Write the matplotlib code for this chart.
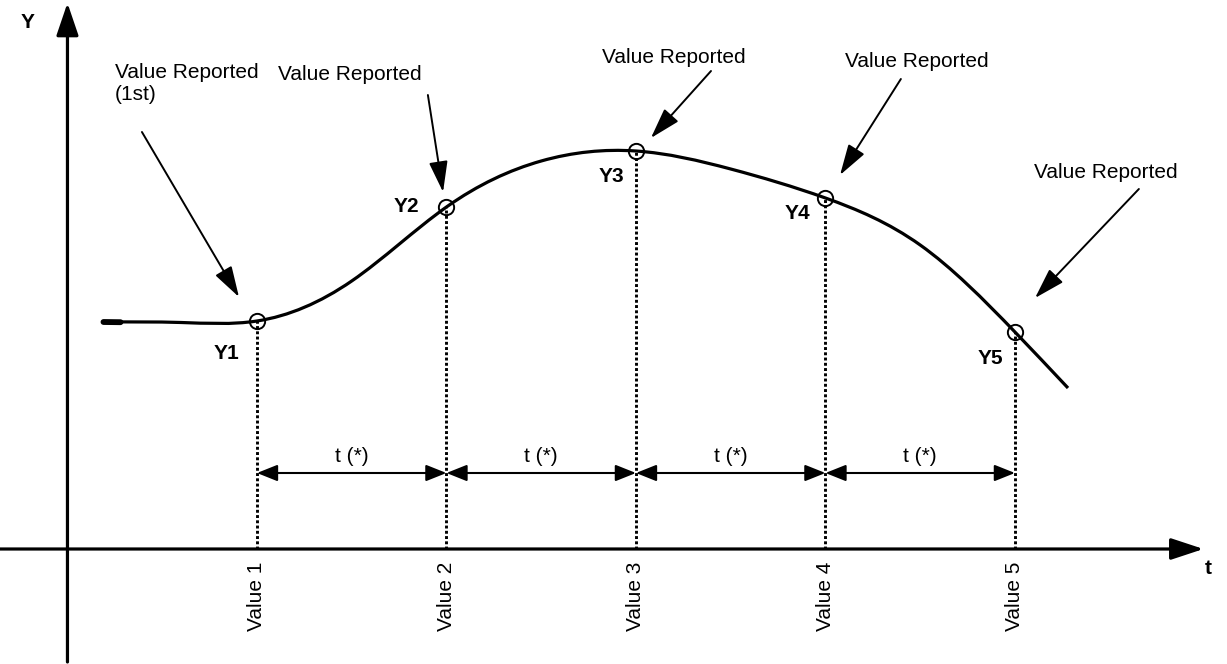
import numpy as np
import matplotlib
matplotlib.use("Agg")
import matplotlib.pyplot as plt
from matplotlib.path import Path
from matplotlib.patches import PathPatch

plt.rcParams['font.family'] = ['Liberation Sans', 'DejaVu Sans']

# ---- data (t in reporting periods, Y in arbitrary units) ----
sample_t = [1, 2, 3, 4, 5]
sample_y = [2.28, 3.42, 3.98, 3.51, 2.17]
sample_labels = ["Y1", "Y2", "Y3", "Y4", "Y5"]
tick_labels = ["Value 1", "Value 2", "Value 3", "Value 4", "Value 5"]
curve_t = [0.19, 0.60, 1.0, 1.5, 2.0, 2.5, 3.0, 3.5, 4.0, 4.5, 5.0, 5.28]
curve_y = [2.27, 2.265, 2.28, 2.68, 3.42, 3.88, 3.98, 3.80, 3.51, 3.04, 2.17, 1.61]
interval_label = "t (*)"
report_label = "Value Reported"
first_report_label = "Value Reported\n(1st)"

# ---- figure ----
fig = plt.figure(figsize=(12.27, 6.64), dpi=100)
ax = fig.add_axes([0, 0, 1, 1])
ax.set_xlim(-0.356, 6.119)
ax.set_ylim(-1.15, 5.49)
ax.axis('off')

FS = 15
black = 'black'

# axes with arrows
ax.annotate('', xy=(5.995, 0), xytext=(-0.36, 0),
            arrowprops=dict(arrowstyle='-|>,head_length=2.0,head_width=0.66',
                            mutation_scale=10, lw=2.3, color=black,
                            shrinkA=0, shrinkB=0))
ax.annotate('', xy=(0.0, 5.46), xytext=(0.0, -1.13),
            arrowprops=dict(arrowstyle='-|>,head_length=2.0,head_width=0.68',
                            mutation_scale=10, lw=2.3, color=black,
                            shrinkA=0, shrinkB=0))
ax.text(-0.208, 5.27, "Y", fontsize=FS, fontweight='bold', ha='center', va='center')
ax.text(6.02, -0.19, "t", fontsize=FS, fontweight='bold', ha='center', va='center')

# smooth curve through knots: C2 cubic spline slopes, drawn as Bezier path
tk = np.asarray(curve_t, float)
yk = np.asarray(curve_y, float)
n = len(tk)
h = np.diff(tk)
d = np.diff(yk) / h
A = np.zeros((n, n))
rhs = np.zeros(n)
A[0, 0], A[0, 1], rhs[0] = 2.0, 1.0, 3 * d[0]
A[-1, -2], A[-1, -1], rhs[-1] = 1.0, 2.0, 3 * d[-1]
for i in range(1, n - 1):
    A[i, i - 1] = h[i]
    A[i, i] = 2 * (h[i - 1] + h[i])
    A[i, i + 1] = h[i - 1]
    rhs[i] = 3 * (h[i] * d[i - 1] + h[i - 1] * d[i])
m = np.linalg.solve(A, rhs)
verts = [(tk[0], yk[0])]
codes = [Path.MOVETO]
for i in range(n - 1):
    verts += [(tk[i] + h[i] / 3, yk[i] + m[i] * h[i] / 3),
              (tk[i + 1] - h[i] / 3, yk[i + 1] - m[i + 1] * h[i] / 3),
              (tk[i + 1], yk[i + 1])]
    codes += [Path.CURVE4] * 3
ax.add_patch(PathPatch(Path(verts, codes), fill=False, lw=2.3, edgecolor=black,
                       capstyle='butt'))
# thicker pen start
ax.plot([curve_t[0], curve_t[0] + 0.09], [curve_y[0], curve_y[0] - 0.002],
        lw=4.2, color=black, solid_capstyle='round')

# dotted drop lines
ax.vlines(sample_t, 0, sample_y, colors=black, linestyles=(0, (1, 0.8)), lw=2.1)

# sample markers
ax.plot(sample_t, sample_y, 'o', ms=11, mfc='none', mec=black, mew=1.4)

# sample labels
label_offsets = [(-30, -32), (-40, 1), (-25, -25), (-28, -15), (-25, -26)]
for t, y, lab, off in zip(sample_t, sample_y, sample_labels, label_offsets):
    ax.annotate(lab, xy=(t, y), xytext=off, textcoords='offset pixels',
                fontsize=FS, fontweight='bold', ha='center', va='center')

# tick labels under the axis
for t, lab in zip(sample_t, tick_labels):
    ax.text(t, -0.13, lab, rotation=90, fontsize=FS, ha='center', va='top')

# interval double arrows
arrow_y = 0.76
for a, b in zip(sample_t[:-1], sample_t[1:]):
    ax.annotate('', xy=(b, arrow_y), xytext=(a, arrow_y),
                arrowprops=dict(arrowstyle='<|-|>,head_length=1.25,head_width=0.5',
                                mutation_scale=10, lw=1.5, color=black,
                                shrinkA=0, shrinkB=0))
    ax.text((a + b) / 2, 0.93, interval_label, fontsize=FS, ha='center', va='center')

# "Value Reported" callouts
callouts = [
    # text x, text y (baseline), ha, arrow start, arrow tip
    (0.251, 4.61, 'left', (0.393, 4.17), (0.905, 2.52), first_report_label),
    (1.49, 4.69, 'center', (1.902, 4.54), (1.982, 3.57), report_label),
    (3.201, 4.86, 'center', (3.396, 4.78), (3.079, 4.11), report_label),
    (4.483, 4.82, 'center', (4.398, 4.70), (4.077, 3.74), report_label),
    (5.480, 3.71, 'center', (5.654, 3.60), (5.106, 2.51), report_label),
]
for tx, ty, ha, start, tip, lab in callouts:
    if '\n' in lab:
        ax.text(tx, ty + 0.25, lab, fontsize=FS, ha=ha, va='top', linespacing=1.2)
    else:
        ax.text(tx, ty, lab, fontsize=FS, ha=ha, va='baseline')
    ax.annotate('', xy=tip, xytext=start,
                arrowprops=dict(arrowstyle='-|>,head_length=1.9,head_width=0.58',
                                mutation_scale=10, lw=1.4, color=black,
                                shrinkA=0, shrinkB=0))

fig.savefig("out.png", dpi=100, facecolor='white')
